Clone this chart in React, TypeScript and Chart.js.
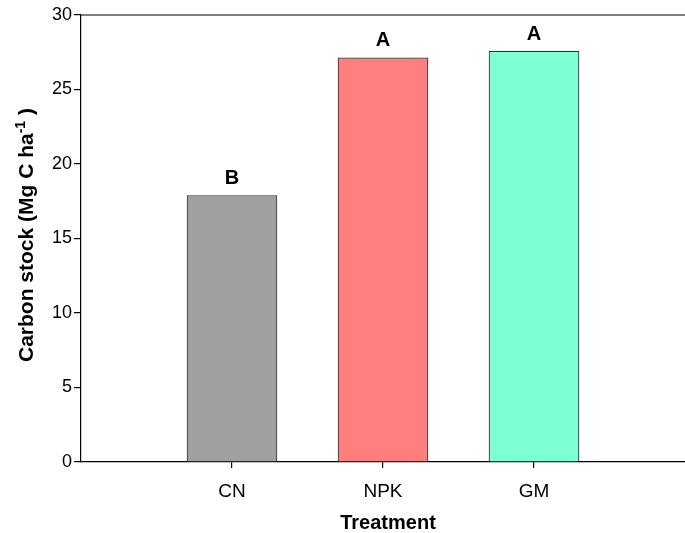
import React, { useEffect, useRef } from "react";
import { Chart, registerables } from "chart.js";
Chart.register(...registerables);

const categories = ["CN", "NPK", "GM"];
const positions = [1, 2, 3];
const carbonStock = [17.9, 27.15, 27.6];
const letters = ["B", "A", "A"];
const barColors = ["#A0A0A0", "#FF7F7F", "#7FFFD4"];
const yMin = 0;
const yMax = 30;
const yStep = 5;
const xTitle = "Treatment";
const yTitleMain = "Carbon stock (Mg C ha";
const yTitleSup = "-1";
const yTitleEnd = " )";

const FONT = "'Liberation Sans', Arial, sans-serif";

const decorPlugin = {
  id: "decor",
  afterDraw(chart: any) {
    const ctx = chart.ctx;
    const area = chart.chartArea;
    ctx.save();
    // top frame line
    ctx.strokeStyle = "#000";
    ctx.lineWidth = 1.2;
    ctx.beginPath();
    ctx.moveTo(area.left, area.top);
    ctx.lineTo(area.right, area.top);
    ctx.stroke();

    // bar letters
    const meta = chart.getDatasetMeta(0);
    ctx.fillStyle = "#000";
    ctx.font = `bold 20px ${FONT}`;
    ctx.textAlign = "center";
    ctx.textBaseline = "alphabetic";
    meta.data.forEach((el: any, i: number) => {
      ctx.fillText(letters[i], el.x, el.y - 11);
    });

    // x title
    ctx.font = `bold 20px ${FONT}`;
    ctx.fillText(xTitle, 388, 529);

    // y title with superscript
    ctx.translate(33, 235);
    ctx.rotate(-Math.PI / 2);
    ctx.textAlign = "left";
    const mainFont = `bold 21px ${FONT}`;
    const supFont = `bold 14px ${FONT}`;
    ctx.font = mainFont;
    const w1 = ctx.measureText(yTitleMain).width;
    const w3 = ctx.measureText(yTitleEnd).width;
    ctx.font = supFont;
    const w2 = ctx.measureText(yTitleSup).width;
    let x = -(w1 + w2 + w3) / 2;
    ctx.font = mainFont;
    ctx.fillText(yTitleMain, x, 0);
    x += w1;
    ctx.font = supFont;
    ctx.fillText(yTitleSup, x, -8);
    x += w2;
    ctx.font = mainFont;
    ctx.fillText(yTitleEnd, x, 0);
    ctx.restore();
  },
};

export default function App() {
  const ref = useRef<HTMLCanvasElement | null>(null);
  useEffect(() => {
    if (!ref.current) return;
    const chart = new Chart(ref.current, {
      type: "bar",
      data: {
        datasets: [
          {
            data: positions.map((x, i) => ({ x, y: carbonStock[i] })),
            backgroundColor: barColors,
            borderColor: "#333333",
            borderWidth: 1.2,
            barPercentage: 0.6,
            categoryPercentage: 1,
          },
        ],
      },
      options: {
        responsive: false,
        animation: false,
        layout: { padding: { top: 15, right: 0, left: 0, bottom: 0 } },
        plugins: { legend: { display: false }, tooltip: { enabled: false } },
        scales: {
          x: {
            type: "linear",
            min: 0,
            max: 4,
            offset: false,
            afterBuildTicks: (s: any) => {
              s.ticks = positions.map((v) => ({ value: v }));
            },
            afterFit: (s: any) => {
              s.height = 71;
            },
            ticks: {
              callback: (v: any) => {
                const i = positions.indexOf(Number(v));
                return i >= 0 ? categories[i] : "";
              },
              color: "#000",
              font: { family: FONT, size: 19 },
              padding: 12,
              maxRotation: 0,
            },
            grid: {
              display: true,
              offset: false,
              drawOnChartArea: false,
              drawTicks: true,
              tickLength: 6,
              color: "#000",
              lineWidth: 1.2,
            },
            border: { display: true, color: "#000", width: 1.2 },
          },
          y: {
            type: "linear",
            min: yMin,
            max: yMax,
            afterFit: (s: any) => {
              s.width = 81;
            },
            ticks: {
              stepSize: yStep,
              color: "#000",
              font: { family: FONT, size: 18 },
              padding: 2,
            },
            grid: {
              display: true,
              drawOnChartArea: false,
              drawTicks: true,
              tickLength: 7,
              color: "#000",
              lineWidth: 1.2,
            },
            border: { display: true, color: "#000", width: 1.2 },
          },
        },
      },
      plugins: [decorPlugin],
    });
    return () => chart.destroy();
  }, []);
  return (
    <canvas
      ref={ref}
      width={685}
      height={533}
      style={{ position: "fixed", left: 0, top: 0, width: 685, height: 533, background: "#fff" }}
    />
  );
}
